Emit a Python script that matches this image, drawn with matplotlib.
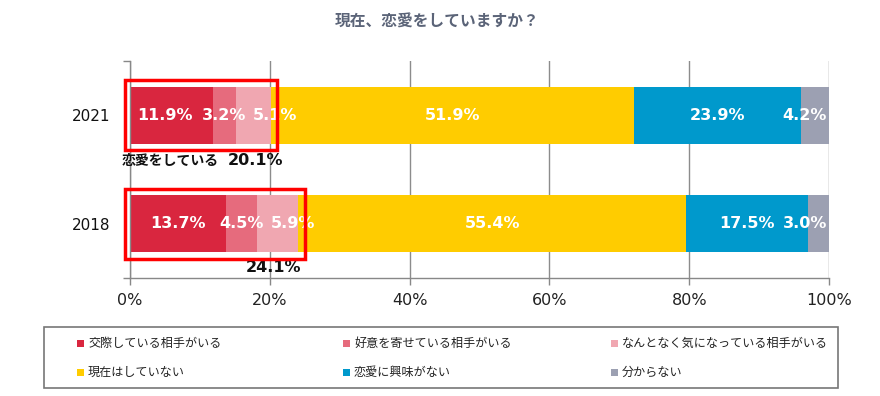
import matplotlib
matplotlib.use("Agg")
import matplotlib.pyplot as plt
from matplotlib.patches import Rectangle
import numpy as np

plt.rcParams['font.family'] = ['DejaVu Sans', 'Noto Sans CJK JP']

# ---- data ----
years = ["2018", "2021"]
series_names = ["交際している相手がいる", "好意を寄せている相手がいる", "なんとなく気になっている相手がいる",
                "現在はしていない", "恋愛に興味がない", "分からない"]
values_2018 = [13.7, 4.5, 5.9, 55.4, 17.5, 3.0]
values_2021 = [11.9, 3.2, 5.1, 51.9, 23.9, 4.2]
totals = [24.1, 20.1]  # 恋愛をしている (2018, 2021)
colors = ["#d9263f", "#e66b7d", "#f0a7b1", "#ffcc00", "#0099cc", "#9ca0b2"]
xticks = [0, 20, 40, 60, 80, 100]
xtick_labels = ["0%", "20%", "40%", "60%", "80%", "100%"]
title = "現在、恋愛をしていますか？"

data = np.array([values_2018, values_2021])

# manual label nudges (x, in axis % units) as in the original chart
label_dx = {(1, 0): -0.9, (0, 2): 2.1, (1, 2): 3.1, (0, 5): -1.9, (1, 5): -1.6}

fig = plt.figure(figsize=(8.8, 3.96), dpi=100)
ax = fig.add_axes([130/880, 1-278/396, (829-130)/880, (278-61)/396])

ypos = np.arange(len(years))
bar_h = 0.525
left = np.zeros(len(years))
for i, name in enumerate(series_names):
    vals = data[:, i]
    ax.barh(ypos, vals, left=left, height=bar_h, color=colors[i], zorder=2, label=name)
    for j in range(len(years)):
        dx = label_dx.get((j, i), 0.0)
        ax.text(left[j] + vals[j]/2 + dx, ypos[j], f"{vals[j]:.1f}%", ha="center", va="center",
                color="white", fontsize=11.5, fontweight="bold", zorder=4)
    left += vals

ax.set_xlim(0, 100)
ax.set_ylim(-0.5, 1.5)
ax.set_xticks(xticks)
ax.set_xticklabels(xtick_labels, fontsize=11.5, color="#222222")
ax.set_yticks(ypos)
ax.set_yticklabels(years, fontsize=11, color="#111111")
ax.tick_params(axis="y", length=0, pad=14)
ax.set_yticks([-0.5, 1.5], minor=True)
ax.tick_params(axis="y", which="minor", length=5, color="#888888", width=1)
ax.tick_params(axis="x", length=5, color="#888888", width=1, pad=6)
ax.grid(axis="x", color="#8c8c8c", linewidth=1, zorder=0)
for s in ["top", "right"]:
    ax.spines[s].set_visible(False)
for s in ["left", "bottom"]:
    ax.spines[s].set_color("#888888")
    ax.spines[s].set_linewidth(1)

# red boxes around "恋愛をしている"
pad_y = 0.06
for j in range(len(years)):
    x0 = -0.7
    x1 = totals[j] + 0.9
    rect = Rectangle((x0, ypos[j] - bar_h/2 - pad_y), x1 - x0, bar_h + 2*pad_y,
                     fill=False, edgecolor="#ff0000", linewidth=2.5, zorder=5, clip_on=False)
    ax.add_patch(rect)

# totals annotations
ax.text(-1.2, 0.58, "恋愛をしている", ha="left", va="center", fontsize=10, fontweight="bold",
        family=['Noto Sans CJK JP'], color="#111111")
ax.text(totals[1] - 2.2, 0.58, f"{totals[1]:.1f}%", ha="center", va="center", fontsize=11.5,
        fontweight="bold", color="#111111")
ax.text(totals[0] - 3.6, -0.405, f"{totals[0]:.1f}%", ha="center", va="center", fontsize=11.5,
        fontweight="bold", color="#111111")

fig.text(0.497, 1-22/396, title, ha="center", va="center", fontsize=11.3, fontweight="bold",
         color="#5b6478", family=['Noto Sans CJK JP', 'DejaVu Sans'])

# legend
W, H = 880, 396
fig.patches.append(Rectangle((43.5/W, 1-388/H), (838-43.5)/W, (388-327)/H, transform=fig.transFigure,
                             fill=False, edgecolor="#777777", linewidth=1.2))
col_x = [77, 343, 611]
row_y = [343, 372]
for k, name in enumerate(series_names):
    r, c = divmod(k, 3)
    mx, my = col_x[c], row_y[r]
    fig.patches.append(Rectangle((mx/W, 1-(my+3.5)/H), 7/W, 7/H, transform=fig.transFigure,
                                 facecolor=colors[k], edgecolor="none"))
    fig.text((mx+11)/W, 1-my/H, name, ha="left", va="center", fontsize=8.7,
             family=['Noto Sans CJK JP'], color="#222222")

fig.savefig("out.png", dpi=100)
